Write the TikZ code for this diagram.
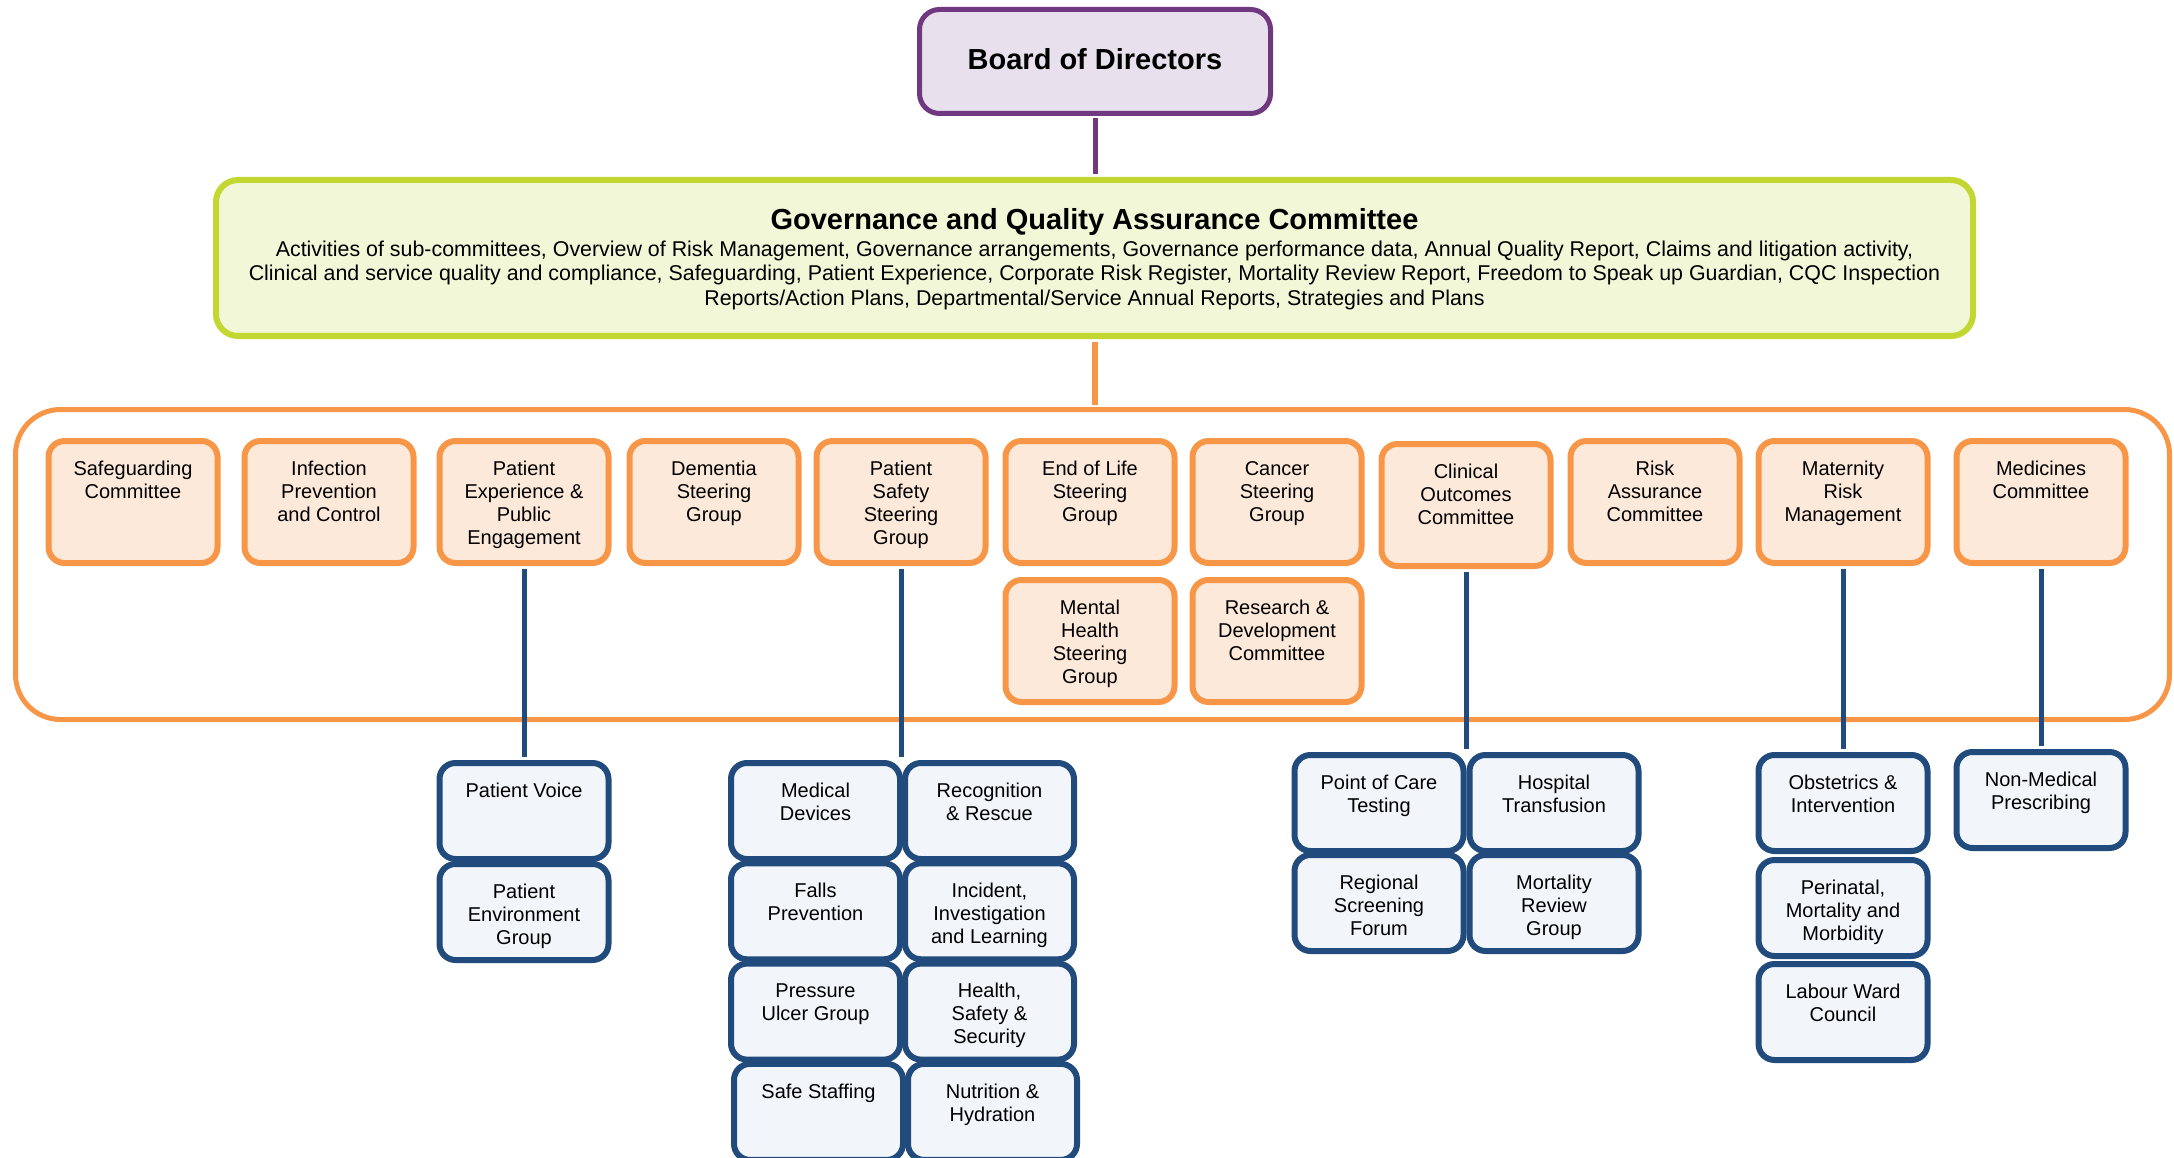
\documentclass[tikz,border=0pt]{standalone}
\usepackage{fontspec}
\setmainfont{Liberation Sans}
\usepackage{tikz}
\usetikzlibrary{calc}
\usepackage{xcolor}
\definecolor{BoardPurple}{HTML}{70397F}
\definecolor{BoardLilac}{HTML}{E8E0EC}
\definecolor{GovGreen}{HTML}{C3D733}
\definecolor{GovLime}{HTML}{F1F7D7}
\definecolor{CmteOrange}{HTML}{F79646}
\definecolor{CmtePeach}{HTML}{FDE9D9}
\definecolor{SubBlue}{HTML}{214A7D}
\definecolor{SubMist}{HTML}{F2F5FA}

\tikzset{
  topbox/.style={inner sep=0pt,anchor=north,font=\fontsize{20}{23}\selectfont,
    execute at begin node={\begin{minipage}[c][#1][t]{169pt}\centering\vspace*{18pt}\strut},
    execute at end node={\end{minipage}}},
  board/.style={draw=BoardPurple,fill=BoardLilac,line width=5pt,rounded corners=20pt,
    minimum width=351pt,minimum height=104pt,text depth=6pt,font=\bfseries\fontsize{29}{34}\selectfont},
  gov/.style={draw=GovGreen,fill=GovLime,line width=6pt,rounded corners=22pt,
    minimum width=1757pt,minimum height=156pt,align=center,font=\fontsize{21.4}{24.5}\selectfont},
  panel/.style={draw=CmteOrange,line width=5pt,rounded corners=45pt,
    minimum width=2154pt,minimum height=310pt},
  cmte/.style={topbox=122pt,draw=CmteOrange,fill=CmtePeach,line width=6pt,rounded corners=16pt},
  subgrp/.style={topbox=96pt,draw=SubBlue,fill=SubMist,line width=6pt,rounded corners=16pt},
  link/.style={line width=5pt,draw=SubBlue,shorten <=3pt,shorten >=3pt}
}

\begin{document}
\begin{tikzpicture}[x=1pt,y=-1pt]
    \useasboundingbox (0,0) rectangle (2174,1158);
    \node[board] (board) at (1095,61.5) {Board of Directors};
    \node[gov,text depth=3pt] (gov) at (1094.5,258) {{\bfseries\fontsize{29}{30}\selectfont Governance and Quality Assurance Committee}\\[2.5pt]
      Activities of sub-committees, Overview of Risk Management, Governance arrangements, Governance performance data, Annual Quality Report, Claims and litigation activity,\\
      Clinical and service quality and compliance, Safeguarding, Patient Experience, Corporate Risk Register, Mortality Review Report, Freedom to Speak up Guardian, CQC Inspection\\
      Reports/Action Plans, Departmental/Service Annual Reports, Strategies and Plans};
    \node[panel] (panel) at (1092.5,564.5) {};
    \draw[line width=5pt,BoardPurple,shorten <=2.5pt,shorten >=3pt] (board.south) -- (board.south |- gov.north);
    \draw[line width=6pt,CmteOrange,shorten <=3pt,shorten >=2.5pt] (gov.south) -- (gov.south |- panel.north);

    \foreach \name/\x/\txt in {safe/133/{Safeguarding\\Committee},ipc/329/{Infection\\Prevention\\and Control},
      pexp/524/{Patient\\Experience \&\\Public\\Engagement},dem/714/{Dementia\\Steering\\Group},
      psafe/901/{Patient\\Safety\\Steering\\Group},eol/1090/{End of Life\\Steering\\Group},
      cancer/1277/{Cancer\\Steering\\Group},risk/1655/{Risk\\Assurance\\Committee},
      mat/1843/{Maternity\\Risk\\Management},med/2041/{Medicines\\Committee}} {
     \node[cmte] (\name) at (\x,438) {\txt};
    }
    \node[cmte] (clin) at (1466,441) {Clinical\\Outcomes\\Committee};
    \node[cmte] (mh) at (1090,577) {Mental\\Health\\Steering\\Group};
    \node[cmte] (rd) at (1277,577) {Research \&\\Development\\Committee};

    \node[subgrp] (pvoice) at (524,760) {Patient Voice};
    \node[subgrp] (penv) at (524,861) {Patient\\Environment\\Group};

    \foreach \row/\dx/\lname/\ltxt/\rname/\rtxt in {0/0/meddev/{Medical\\Devices}/recog/{Recognition\\\& Rescue},
      1/0/falls/{Falls\\Prevention}/incid/{Incident,\\Investigation\\and Learning},
      2/0/press/{Pressure\\Ulcer Group}/health/{Health,\\Safety \&\\Security},
      3/3/staff/{Safe Staffing}/nutri/{Nutrition \&\\Hydration}} {
     \node[subgrp] (\lname) at (815.5+\dx,760+100.3*\row) {\ltxt};
     \node[subgrp] (\rname) at (989.5+\dx,760+100.3*\row) {\rtxt};
    }

    \node[subgrp] (poc) at (1379,752) {Point of Care\\Testing};
    \node[subgrp] (hosp) at (1554,752) {Hospital\\Transfusion};
    \node[subgrp] (rsf) at (1379,852) {Regional\\Screening\\Forum};
    \node[subgrp] (mrg) at (1554,852) {Mortality\\Review\\Group};

    \node[subgrp] (obs) at (1843,752) {Obstetrics \&\\Intervention};
    \node[subgrp] (peri) at (1843,857) {Perinatal,\\Mortality and\\Morbidity};
    \node[subgrp] (lwc) at (1843,961) {Labour Ward\\Council};

    \node[subgrp] (nmp) at (2041,749) {Non-Medical\\Prescribing};

    \draw[link] (pexp.south) -- (pvoice.north);
    \draw[link] (psafe.south) -- (psafe.south |- meddev.north);
    \draw[link] (clin.south) -- (clin.south |- poc.north);
    \draw[link] (mat.south) -- (obs.north);
    \draw[link] (med.south) -- (nmp.north);
   \end{tikzpicture}
\end{document}
